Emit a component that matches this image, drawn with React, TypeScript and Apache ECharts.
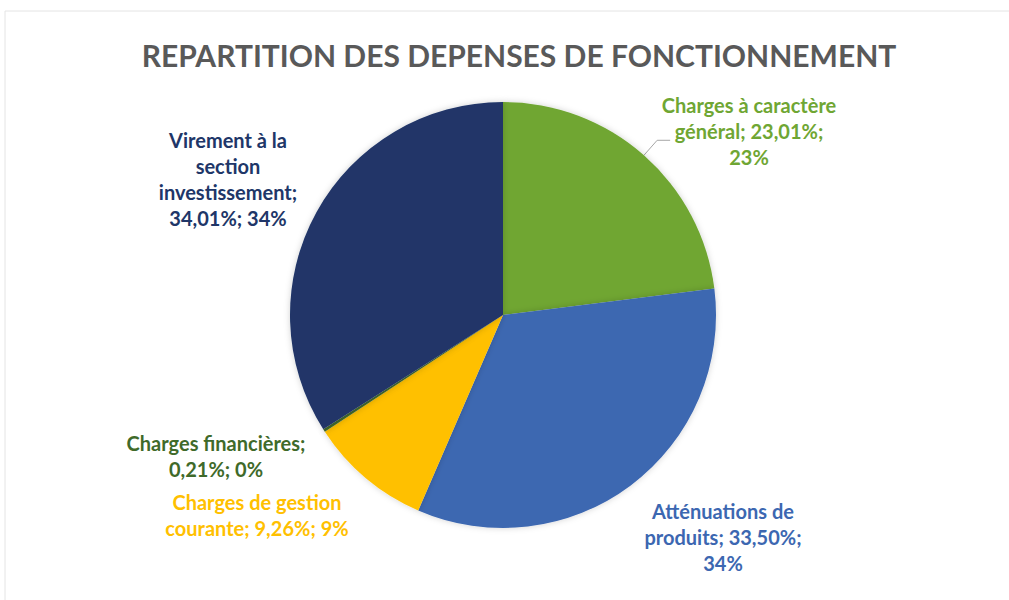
import React, { useEffect, useRef } from "react";
import * as echarts from "echarts";

const titleText = "REPARTITION DES DEPENSES DE FONCTIONNEMENT";
const categories = [
  "Charges à caractère général",
  "Atténuations de produits",
  "Charges de gestion courante",
  "Charges financières",
  "Virement à la section investissement",
];
const values = [23.01, 33.5, 9.26, 0.21, 34.01];
const colors = ["#6FA633", "#3C67B1", "#FFC000", "#43682B", "#203668"];
const labelColors = ["#6FA633", "#3C67B1", "#FFC000", "#3F6A2A", "#203668"];

// label layout: centre of each label block and words per line
const labelPos = [
  { x: 749, y: 131, lines: [3, 2, 1] },
  { x: 723, y: 537, lines: [2, 2, 1] },
  { x: 257, y: 515, lines: [3, 3] },
  { x: 216, y: 456, lines: [2, 2] },
  { x: 228, y: 179, lines: [3, 1, 1, 2] },
];

export default function App() {
  const ref = useRef<HTMLDivElement>(null);
  useEffect(() => {
    if (!ref.current) return;
    const chart = echarts.init(ref.current, null, { renderer: "svg" });
    const fmt = (p: any) => {
      const full = `${p.name}; ${Number(p.value).toFixed(2).replace(".", ",")}%; ${Math.round(p.percent)}%`;
      const words = full.split(" ");
      const out: string[] = [];
      let k = 0;
      for (const n of labelPos[p.dataIndex].lines) {
        out.push(words.slice(k, k + n).join(" "));
        k += n;
      }
      if (k < words.length) out[out.length - 1] += " " + words.slice(k).join(" ");
      return out.join("\n");
    };
    chart.setOption({
      animation: false,
      backgroundColor: "#ffffff",
      title: {
        text: titleText,
        left: 514,
        top: 35,
        textAlign: "center",
        textStyle: {
          fontFamily: "Lato",
          fontWeight: "bold",
          fontSize: 30,
          color: "#595959",
        },
      },
      graphic: [
        {
          type: "rect",
          shape: { x: 5, y: 11, width: 1020, height: 620 },
          style: { fill: "none", stroke: "#e4e4e4", lineWidth: 1 },
          silent: true,
        },
      ],
      series: [
        {
          type: "pie",
          center: [503, 315],
          radius: [0, 213],
          startAngle: 90,
          clockwise: true,
          avoidLabelOverlap: false,
          itemStyle: {
            borderWidth: 0,
            shadowBlur: 6,
            shadowColor: "rgba(0,0,0,0.18)",
          },
          label: {
            show: true,
            position: "outside",
            formatter: fmt,
            fontFamily: "Lato",
            fontWeight: "bold",
            fontSize: 20,
            lineHeight: 26,
            align: "center",
          },
          labelLine: { show: false },
          labelLayout: (params: any) => {
            const p = labelPos[params.dataIndex];
            const res: any = { x: p.x, y: p.y, align: "center", verticalAlign: "middle" };
            if (params.dataIndex === 0 && params.labelLinePoints) {
              res.labelLinePoints = params.labelLinePoints.map((pt: number[]) => [pt[0], pt[1]]);
            }
            return res;
          },
          data: categories.map((name, i) => ({
            name,
            value: values[i],
            itemStyle: { color: colors[i] },
            label: { color: labelColors[i] },
            labelLine:
              i === 0
                ? { show: true, length: 20, length2: 13, lineStyle: { color: "#a6a6a6", width: 1 } }
                : { show: false },
          })),
        },
      ],
    });
    return () => chart.dispose();
  }, []);
  return (
    <div
      ref={ref}
      style={{ position: "fixed", left: 0, top: 0, width: 1009, height: 600 }}
    />
  );
}
